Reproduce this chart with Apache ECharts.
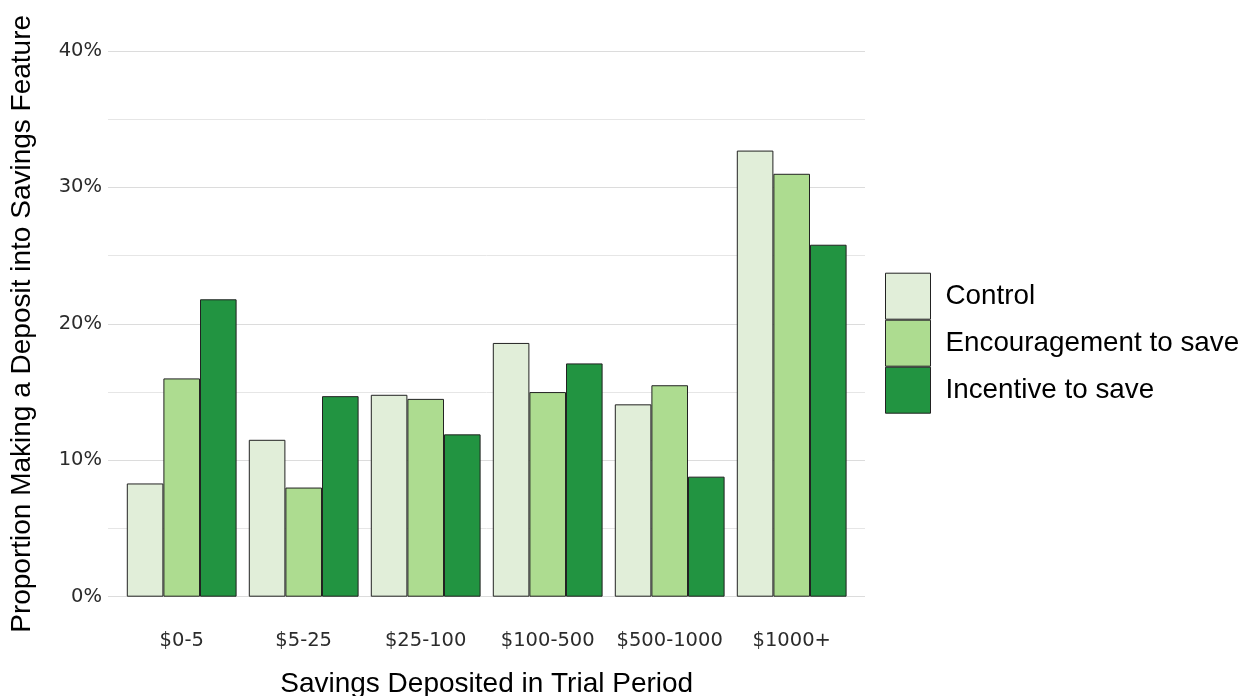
<!DOCTYPE html>
<html>
<head>
<meta charset="utf-8">
<script src="https://cdn.jsdelivr.net/npm/echarts@6/dist/echarts.min.js"></script>
<style>
html,body{margin:0;padding:0;background:#fff;}
#chart{width:1246px;height:696px;}
</style>
</head>
<body>
<div id="chart"></div>
<script>
const categories = ['$0-5', '$5-25', '$25-100', '$100-500', '$500-1000', '$1000+'];
const seriesNames = ['Control', 'Encouragement to save', 'Incentive to save'];
const controlValues = [8.3, 11.5, 14.8, 18.6, 14.1, 32.7];
const encouragementValues = [16.0, 8.0, 14.5, 15.0, 15.5, 31.0];
const incentiveValues = [21.8, 14.7, 11.9, 17.1, 8.8, 25.8];
const yTicks = [0, 10, 20, 30, 40];

const colors = ['#e1eed9', '#addc90', '#229441'];
const FONT = '"Liberation Sans", Arial, Helvetica, sans-serif';
const TICK_FONT = '"DejaVu Sans", "Liberation Sans", sans-serif';

const chart = echarts.init(document.getElementById('chart'), null, {renderer: 'canvas'});

const valuesList = [controlValues, encouragementValues, incentiveValues];

const option = {
  animation: false,
  backgroundColor: '#ffffff',
  textStyle: {fontFamily: FONT},
  grid: [
    {left: 108, width: 757, top: 51, height: 545.7, containLabel: false, outerBoundsMode: 'none'},
    {left: 120.7, width: 732, top: 51, height: 545.7, containLabel: false, outerBoundsMode: 'none'}
  ],
  legend: {
    orient: 'vertical',
    left: 885,
    top: 272.7,
    padding: 0,
    itemWidth: 45,
    itemHeight: 46,
    itemGap: 0,
    icon: 'rect',
    data: seriesNames,
    itemStyle: {borderColor: '#222', borderWidth: 1},
    textStyle: {fontSize: 27.8, color: '#000', fontFamily: FONT, padding: [4, 0, 0, 10]}
  },
  xAxis: [
    {type: 'value', gridIndex: 0, min: 0, max: 1, show: false},
    {
      type: 'category', gridIndex: 1, data: categories,
      axisLine: {show: false}, axisTick: {show: false},
      axisLabel: {fontSize: 19.5, color: '#2b2b2b', fontFamily: TICK_FONT, margin: 34, interval: 0},
      name: 'Savings Deposited in Trial Period',
      nameLocation: 'middle',
      nameGap: 74,
      nameTextStyle: {fontSize: 28, color: '#000', fontFamily: FONT}
    }
  ],
  yAxis: [
    {
      type: 'value', gridIndex: 0, min: yTicks[0], max: yTicks[yTicks.length - 1], interval: 10,
      axisLine: {show: false}, axisTick: {show: false},
      axisLabel: {fontSize: 19.5, color: '#2b2b2b', fontFamily: TICK_FONT, margin: 6, formatter: '{value}%'},
      splitLine: {show: true, lineStyle: {color: '#dcdcdc', width: 1.1}},
      minorTick: {show: false, splitNumber: 2},
      minorSplitLine: {show: true, lineStyle: {color: '#e6e6e6', width: 1}},
      name: 'Proportion Making a Deposit into Savings Feature',
      nameLocation: 'middle',
      nameGap: 72,
      nameTextStyle: {fontSize: 28, color: '#000', fontFamily: FONT}
    },
    {type: 'value', gridIndex: 1, min: 0, max: 40, show: false}
  ],
  series: seriesNames.map((name, i) => ({
    name: name,
    type: 'bar',
    xAxisIndex: 1,
    yAxisIndex: 1,
    data: valuesList[i],
    barGap: '0%',
    barCategoryGap: '10%',
    itemStyle: {color: colors[i], borderColor: '#222', borderWidth: 1}
  }))
};

chart.setOption(option);
</script>
</body>
</html>
